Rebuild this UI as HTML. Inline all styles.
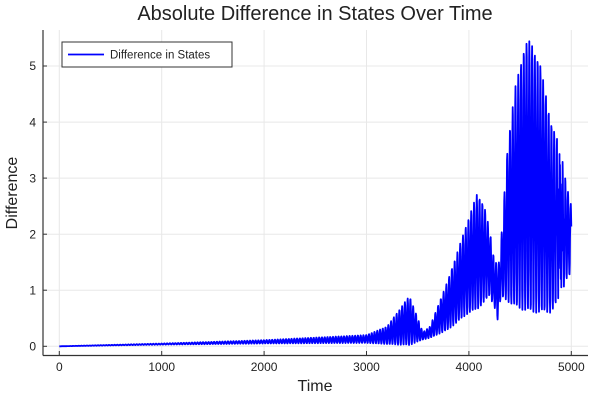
<!DOCTYPE html>
<html><head><meta charset="utf-8"><style>
body{margin:0;background:#fff}
svg text{font-family:"Liberation Sans","DejaVu Sans",sans-serif;fill:#222}
</style></head><body>
<svg id="s" width="600" height="400" xmlns="http://www.w3.org/2000/svg">
<rect width="600" height="400" fill="#fff"/>
<g stroke="#e8e8e8" stroke-width="1">
<line x1="59.3" y1="30" x2="59.3" y2="355"/><line x1="161.7" y1="30" x2="161.7" y2="355"/>
<line x1="264.1" y1="30" x2="264.1" y2="355"/><line x1="366.5" y1="30" x2="366.5" y2="355"/>
<line x1="468.9" y1="30" x2="468.9" y2="355"/><line x1="571.3" y1="30" x2="571.3" y2="355"/>
<line x1="43" y1="346.3" x2="588" y2="346.3"/><line x1="43" y1="290.2" x2="588" y2="290.2"/>
<line x1="43" y1="234.2" x2="588" y2="234.2"/><line x1="43" y1="178.1" x2="588" y2="178.1"/>
<line x1="43" y1="122.1" x2="588" y2="122.1"/><line x1="43" y1="66" x2="588" y2="66"/>
</g>
<polyline id="p" fill="none" stroke="#0000ff" stroke-width="1.8" stroke-linejoin="round"/>
<g stroke="#333" stroke-width="1.2">
<line x1="43" y1="30" x2="43" y2="355.5"/><line x1="43" y1="355.5" x2="588" y2="355.5"/>
</g>
<g stroke="#333" stroke-width="1">
<line x1="59.3" y1="355" x2="59.3" y2="351"/><line x1="161.7" y1="355" x2="161.7" y2="351"/>
<line x1="264.1" y1="355" x2="264.1" y2="351"/><line x1="366.5" y1="355" x2="366.5" y2="351"/>
<line x1="468.9" y1="355" x2="468.9" y2="351"/><line x1="571.3" y1="355" x2="571.3" y2="351"/>
<line x1="43" y1="346.3" x2="47" y2="346.3"/><line x1="43" y1="290.2" x2="47" y2="290.2"/>
<line x1="43" y1="234.2" x2="47" y2="234.2"/><line x1="43" y1="178.1" x2="47" y2="178.1"/>
<line x1="43" y1="122.1" x2="47" y2="122.1"/><line x1="43" y1="66" x2="47" y2="66"/>
</g>
<g font-size="12" text-anchor="middle">
<text x="59.3" y="371">0</text><text x="161.7" y="371">1000</text><text x="264.1" y="371">2000</text>
<text x="366.5" y="371">3000</text><text x="468.9" y="371">4000</text><text x="571.3" y="371">5000</text>
</g>
<g font-size="12" text-anchor="end">
<text x="36" y="350.5">0</text><text x="36" y="294.4">1</text><text x="36" y="238.4">2</text>
<text x="36" y="182.3">3</text><text x="36" y="126.3">4</text><text x="36" y="70.2">5</text>
</g>
<text x="315" y="20" font-size="20" text-anchor="middle">Absolute Difference in States Over Time</text>
<text x="315" y="391" font-size="16" text-anchor="middle">Time</text>
<text transform="translate(17,193) rotate(-90)" font-size="16" text-anchor="middle">Difference</text>
<rect x="62" y="42" width="170" height="25" fill="#fff" stroke="#333" stroke-width="1"/>
<line x1="68" y1="54.5" x2="104" y2="54.5" stroke="#0000ff" stroke-width="1.8"/>
<text x="110" y="58.5" font-size="11.5">Difference in States</text>
</svg>
<script>
var U=[[0,0],[1000,0.05],[2000,0.11],[3000,0.2],[3200,0.35],[3420,0.9],[3480,0.6],[3550,0.25],[3620,0.35],[3800,1.2],[4000,2.3],[4080,2.72],[4150,2.5],[4200,2.1],[4250,1.5],[4300,1.5],[4330,2.3],[4380,3.6],[4450,4.6],[4550,5.4],[4600,5.45],[4700,5.0],[4800,4.0],[4900,3.5],[4950,2.9],[5000,2.5]];
var L=[[0,0],[1000,0.03],[2000,0.05],[3000,0.06],[3300,0.03],[3420,0.02],[3550,0.12],[3620,0.15],[3800,0.3],[4000,0.6],[4080,0.65],[4200,0.9],[4250,0.7],[4290,0.4],[4310,0.9],[4380,0.8],[4450,0.7],[4600,0.6],[4800,0.6],[4900,0.9],[4950,1.2],[5000,1.3]];
function I(a,t){for(var i=1;i<a.length;i++){if(t<=a[i][0]){var f=(t-a[i-1][0])/(a[i][0]-a[i-1][0]);return a[i-1][1]+f*(a[i][1]-a[i-1][1]);}}return a[a.length-1][1];}
var pts=[];
for(var t=0;t<=5000;t+=2.5){
 var P=27,c=(1+Math.cos(2*Math.PI*t/P))/2;
 var u=I(U,t),l=I(L,t);
 var v=l+(u-l)*c;
 if(t>4800&&t<5000&&Math.floor(t/2.5)%5==0)v=2.4+0.5*Math.sin(t);
 pts.push((59.3+t*0.1024).toFixed(1)+","+(346.3-v*56.06).toFixed(1));
}
document.getElementById("p").setAttribute("points",pts.join(" "));
</script>
</body></html>
